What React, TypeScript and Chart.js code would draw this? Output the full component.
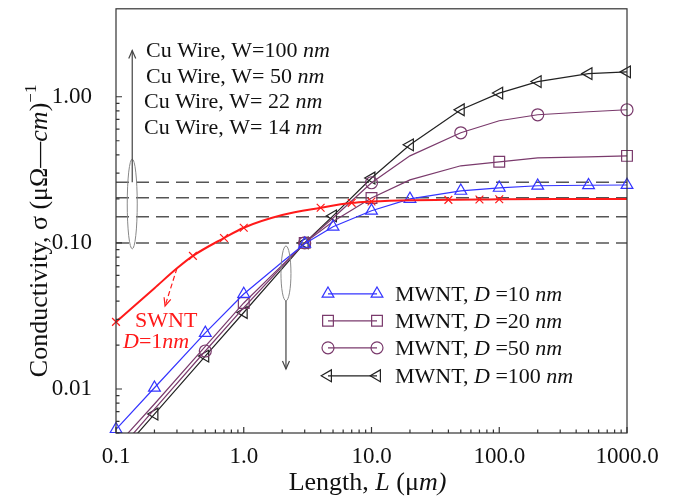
import React, { useEffect, useRef } from 'react';
import { Chart, registerables } from 'chart.js';
import { drawPoint } from 'chart.js/helpers';

Chart.register(...registerables);

const SERIF = '"Liberation Serif", "Times New Roman", Times, serif';

// ---- data ----
const lengthGrid = [0.1, 0.2, 0.5, 1, 2, 3, 5, 10, 20, 50, 100, 200, 500, 1000];
const mwnt10 = [0.0053, 0.0102, 0.0242, 0.0447, 0.074, 0.0985, 0.129, 0.166, 0.2, 0.227, 0.238, 0.246, 0.248, 0.249];
const mwnt20 = [0.00405, 0.0079, 0.0196, 0.0388, 0.0705, 0.1, 0.14, 0.203, 0.27, 0.337, 0.359, 0.382, 0.388, 0.394];
const mwnt50 = [0.00362, 0.00728, 0.0182, 0.036, 0.069, 0.1, 0.148, 0.258, 0.394, 0.567, 0.685, 0.753, 0.79, 0.815];
const mwnt100 = [0.00337, 0.00674, 0.0168, 0.0334, 0.0667, 0.1, 0.153, 0.278, 0.469, 0.815, 1.06, 1.27, 1.44, 1.48];
const mwnt10Marks = [0.1, 0.2, 0.5, 1, 3, 5, 10, 20, 50, 100, 200, 500, 1000];
const mwnt20Marks = [1, 3, 10, 100, 1000];
const mwnt50Marks = [0.5, 3, 10, 50, 200, 1000];
const mwnt100Marks = [0.2, 0.5, 1, 3, 5, 10, 20, 50, 100, 200, 500, 1000];

const swntLength = [0.1, 0.2, 0.3, 0.4, 0.7, 1, 2, 4, 7, 10, 20, 40, 70, 100, 300, 1000];
const swntValues = [0.0288, 0.049, 0.067, 0.0815, 0.108, 0.127, 0.155, 0.174, 0.188, 0.192, 0.196, 0.197, 0.198, 0.199, 0.2, 0.2];
const swntMarks = [0.1, 0.4, 0.7, 1, 4, 7, 10, 40, 70, 100];

const cuWireLevels = [0.26, 0.204, 0.151, 0.1];
const cuWireWidths = ['100', ' 50', ' 22', ' 14'];
const mwntDiameters = ['10', '20', '50', '100'];

const xMajorTicks = [0.1, 1, 10, 100, 1000];
const xTickLabels = ['0.1', '1.0', '10.0', '100.0', '1000.0'];
const yMajorTicks = [0.01, 0.1, 1];
const yTickLabels = ['0.01', '0.10', '1.00'];

// ---- styles ----
const BLUE = '#3434ff';
const PURPLE = '#7a3a6c';
const BLACK = '#222222';
const RED = '#ff1a1a';
const DASH = '#555555';

const mwntStyles = [
  { color: BLUE, style: 'triangle', radius: 6.8, rotation: 0 },
  { color: PURPLE, style: 'rect', radius: 7.6, rotation: 0 },
  { color: PURPLE, style: 'circle', radius: 6, rotation: 0 },
  { color: BLACK, style: 'triangle', radius: 6.8, rotation: -90 },
];

function decadeTicks(fromExp: number, toExp: number, startMult: number, endValue: number) {
  const out: number[] = [];
  for (let k = fromExp; k <= toExp; k++) {
    for (let m = k === fromExp ? startMult : 1; m <= 9; m++) {
      out.push(Number((m * Math.pow(10, k)).toPrecision(6)));
    }
  }
  out.push(endValue);
  return out;
}
const xTickValues = decadeTicks(-1, 2, 1, 1000);
const yTickValues = decadeTicks(-3, -1, 5, 1);

const near = (a: number, b: number) => Math.abs(a - b) / b < 1e-6;

function mwntDataset(values: number[], marks: number[], idx: number) {
  const s = mwntStyles[idx];
  return {
    data: lengthGrid.map((x, i) => ({ x, y: values[i] })),
    borderColor: s.color,
    backgroundColor: 'rgba(0,0,0,0)',
    borderWidth: 1.2,
    tension: 0,
    pointStyle: s.style,
    pointRotation: s.rotation,
    pointRadius: lengthGrid.map((x) => (marks.some((m) => near(x, m)) ? s.radius : 0)),
    pointBorderColor: s.color,
    pointBackgroundColor: 'rgba(0,0,0,0)',
    pointBorderWidth: 1.2,
    clip: { left: false, right: false, top: false, bottom: 0 },
  };
}

function drawRich(ctx: CanvasRenderingContext2D, segs: { t: string; i?: boolean }[], x: number, y: number, size: number) {
  let cx = x;
  for (const s of segs) {
    ctx.font = `${s.i ? 'italic ' : ''}${size}px ${SERIF}`;
    ctx.fillText(s.t, cx, y);
    cx += ctx.measureText(s.t).width;
  }
  return cx;
}

function richWidth(ctx: CanvasRenderingContext2D, segs: { t: string; i?: boolean; size: number }[]) {
  let w = 0;
  for (const s of segs) {
    ctx.font = `${s.i ? 'italic ' : ''}${s.size}px ${SERIF}`;
    w += ctx.measureText(s.t).width;
  }
  return w;
}

function arrowHead(ctx: CanvasRenderingContext2D, x1: number, y1: number, x2: number, y2: number, len = 8, spread = 3.5) {
  const a = Math.atan2(y2 - y1, x2 - x1);
  const bx = x2 - len * Math.cos(a);
  const by = y2 - len * Math.sin(a);
  ctx.beginPath();
  ctx.moveTo(bx - spread * Math.sin(a), by + spread * Math.cos(a));
  ctx.lineTo(x2, y2);
  ctx.lineTo(bx + spread * Math.sin(a), by - spread * Math.cos(a));
  ctx.stroke();
}

const annotate = {
  id: 'annotate',
  afterDraw(chart: any) {
    const { ctx, chartArea: ca, scales } = chart;
    const xs = scales.x;
    const ys = scales.y;
    const X = (v: number) => xs.getPixelForValue(v);
    const Y = (v: number) => ys.getPixelForValue(v);
    ctx.save();

    // frame
    ctx.strokeStyle = '#333';
    ctx.lineWidth = 1.2;
    ctx.setLineDash([]);
    ctx.strokeRect(ca.left, ca.top, ca.right - ca.left, ca.bottom - ca.top);

    // inward ticks
    ctx.beginPath();
    xs.ticks.forEach((t: any) => {
      const p = X(t.value);
      const len = xMajorTicks.some((m) => near(t.value, m)) ? 6 : 3.5;
      ctx.moveTo(p, ca.bottom);
      ctx.lineTo(p, ca.bottom - len);
    });
    ys.ticks.forEach((t: any) => {
      const p = Y(t.value);
      const len = yMajorTicks.some((m) => near(t.value, m)) ? 6 : 3.5;
      ctx.moveTo(ca.left, p);
      ctx.lineTo(ca.left + len, p);
    });
    ctx.stroke();

    // Cu wire ellipse + arrow
    ctx.strokeStyle = '#888';
    ctx.lineWidth = 1;
    const e1x = X(0.134);
    const e1t = Y(0.375);
    const e1b = Y(0.091);
    ctx.beginPath();
    ctx.ellipse(e1x, (e1t + e1b) / 2, 5, (e1b - e1t) / 2, 0, 0, Math.PI * 2);
    ctx.stroke();
    ctx.strokeStyle = '#444';
    ctx.lineWidth = 1.2;
    const a1s = Y(cuWireLevels[0]);
    const a1e = Y(2.07);
    ctx.beginPath();
    ctx.moveTo(e1x, a1s);
    ctx.lineTo(e1x, a1e);
    ctx.stroke();
    arrowHead(ctx, e1x, a1s, e1x, a1e);

    // MWNT ellipse + arrow
    ctx.strokeStyle = '#888';
    ctx.lineWidth = 1;
    const e2x = X(2.14);
    const e2t = Y(0.0953);
    const e2b = Y(0.0401);
    ctx.beginPath();
    ctx.ellipse(e2x, (e2t + e2b) / 2, 5, (e2b - e2t) / 2, 0, 0, Math.PI * 2);
    ctx.stroke();
    ctx.strokeStyle = '#444';
    ctx.lineWidth = 1.2;
    const a2e = Y(0.0137);
    ctx.beginPath();
    ctx.moveTo(e2x, e2b);
    ctx.lineTo(e2x, a2e);
    ctx.stroke();
    arrowHead(ctx, e2x, e2b, e2x, a2e);

    // SWNT dashed arrow
    ctx.strokeStyle = RED;
    ctx.lineWidth = 1.2;
    const s1x = X(0.3), s1y = Y(0.067);
    const s2x = X(0.242), s2y = Y(0.037);
    ctx.setLineDash([5, 3]);
    ctx.beginPath();
    ctx.moveTo(s1x, s1y);
    ctx.lineTo(s2x, s2y);
    ctx.stroke();
    ctx.setLineDash([]);
    arrowHead(ctx, s1x, s1y, s2x, s2y, 8, 3.5);

    // texts
    ctx.fillStyle = '#111';
    ctx.textBaseline = 'alphabetic';
    ctx.textAlign = 'left';
    const cuBase = [48, 74, 99, 125];
    const cuLeft = [30, 30, 28, 28];
    cuWireWidths.forEach((w, i) => {
      drawRich(ctx, [{ t: `Cu Wire, W=${w} ` }, { t: 'nm', i: true }], ca.left + cuLeft[i], ca.top + cuBase[i], 22);
    });

    ctx.fillStyle = RED;
    drawRich(ctx, [{ t: 'SWNT' }], ca.left + 19, ca.top + 318, 22);
    drawRich(ctx, [{ t: 'D', i: true }, { t: '=1' }, { t: 'nm', i: true }], ca.left + 7, ca.top + 339, 22);

    // legend
    const legBase = [292, 319, 346, 374];
    mwntDiameters.forEach((d, i) => {
      const s = mwntStyles[i];
      const cy = ca.top + legBase[i] - 7;
      const lx1 = ca.left + 212;
      const lx2 = ca.left + 261;
      ctx.strokeStyle = s.color;
      ctx.lineWidth = 1.2;
      ctx.beginPath();
      ctx.moveTo(lx1, cy);
      ctx.lineTo(lx2, cy);
      ctx.stroke();
      ctx.fillStyle = 'rgba(0,0,0,0)';
      const opts = { pointStyle: s.style, radius: s.radius, rotation: s.rotation, borderWidth: 1.2 };
      drawPoint(ctx, opts as any, lx1, cy);
      drawPoint(ctx, opts as any, lx2, cy);
      ctx.fillStyle = '#111';
      drawRich(ctx, [{ t: 'MWNT, ' }, { t: 'D', i: true }, { t: ` =${d} ` }, { t: 'nm', i: true }], ca.left + 279, ca.top + legBase[i], 22);
    });

    // x title
    const xSegs = [
      { t: 'Length, ', size: 26 },
      { t: 'L', i: true, size: 26 },
      { t: ' (', size: 26 },
      { t: 'μ', size: 26 },
      { t: 'm)', i: true, size: 26 },
    ];
    const xw = richWidth(ctx, xSegs);
    let cx = (ca.left + ca.right) / 2 - 4 - xw / 2;
    ctx.fillStyle = '#111';
    for (const s of xSegs) {
      ctx.font = `${s.i ? 'italic ' : ''}${s.size}px ${SERIF}`;
      ctx.fillText(s.t, cx, 490);
      cx += ctx.measureText(s.t).width;
    }

    // y title (rotated)
    const ySegs = [
      { t: 'Conductivity, σ (μΩ—', size: 26, dy: 0 },
      { t: 'cm', i: true, size: 26, dy: 0 },
      { t: ')', size: 26, dy: 0 },
      { t: '−1', size: 17, dy: -11 },
    ];
    const yw = richWidth(ctx, ySegs);
    ctx.save();
    ctx.translate(ca.left - 69, (ca.top + ca.bottom) / 2 + 10 + yw / 2);
    ctx.rotate(-Math.PI / 2);
    let ty = 0;
    for (const s of ySegs) {
      ctx.font = `${s.i ? 'italic ' : ''}${s.size}px ${SERIF}`;
      ctx.fillText(s.t, ty, s.dy);
      ty += ctx.measureText(s.t).width;
    }
    ctx.restore();

    ctx.restore();
  },
};

export default function App() {
  const ref = useRef<HTMLCanvasElement>(null);
  useEffect(() => {
    const datasets: any[] = [
      {
        data: swntLength.map((x, i) => ({ x, y: swntValues[i] })),
        borderColor: RED,
        backgroundColor: 'rgba(0,0,0,0)',
        borderWidth: 2,
        cubicInterpolationMode: 'monotone',
        pointStyle: 'crossRot',
        pointRadius: swntLength.map((x) => (swntMarks.some((m) => near(x, m)) ? 5.5 : 0)),
        pointBorderColor: RED,
        pointBorderWidth: 1.2,
        clip: { left: false, right: false, top: false, bottom: 0 },
      },
      mwntDataset(mwnt10, mwnt10Marks, 0),
      mwntDataset(mwnt20, mwnt20Marks, 1),
      mwntDataset(mwnt50, mwnt50Marks, 2),
      mwntDataset(mwnt100, mwnt100Marks, 3),
      ...cuWireLevels.map((v) => ({
        data: [
          { x: xMajorTicks[0], y: v },
          { x: xMajorTicks[xMajorTicks.length - 1], y: v },
        ],
        borderColor: DASH,
        borderWidth: 1.5,
        borderDash: [13, 7],
        pointRadius: 0,
      })),
    ];
    const chart = new Chart(ref.current as HTMLCanvasElement, {
      type: 'line',
      data: { datasets },
      plugins: [annotate],
      options: {
        animation: false,
        responsive: false,
        events: [],
        layout: { padding: { left: 0, top: 8, right: 50, bottom: 0 } },
        plugins: { legend: { display: false }, tooltip: { enabled: false } },
        scales: {
          x: {
            type: 'logarithmic',
            min: 0.1,
            max: 1000,
            grid: { display: false },
            border: { display: false },
            afterBuildTicks: (s: any) => {
              s.ticks = xTickValues.map((v) => ({ value: v }));
            },
            afterFit: (s: any) => {
              s.height = 69;
              s.paddingLeft = 0;
              s.paddingRight = 0;
            },
            ticks: {
              autoSkip: false,
              maxRotation: 0,
              minRotation: 0,
              padding: 2,
              color: '#111',
              font: { family: SERIF, size: 23 },
              callback: (v: any) => {
                const i = xMajorTicks.findIndex((m) => near(Number(v), m));
                return i >= 0 ? xTickLabels[i] : '';
              },
            },
          },
          y: {
            type: 'logarithmic',
            min: 0.005,
            max: 4,
            grid: { display: false },
            border: { display: false },
            afterBuildTicks: (s: any) => {
              s.ticks = yTickValues.map((v) => ({ value: v }));
            },
            afterFit: (s: any) => {
              s.width = 116;
              s.paddingTop = 0;
              s.paddingBottom = 0;
            },
            ticks: {
              autoSkip: false,
              padding: 16,
              color: '#111',
              font: { family: SERIF, size: 23 },
              callback: (v: any) => {
                const i = yMajorTicks.findIndex((m) => near(Number(v), m));
                return i >= 0 ? yTickLabels[i] : '';
              },
            },
          },
        },
      } as any,
    });
    return () => chart.destroy();
  }, []);
  return (
    <div style={{ position: 'absolute', left: 0, top: 0, width: 677, height: 502, background: '#fff' }}>
      <canvas ref={ref} width={677} height={502} style={{ display: 'block' }} />
    </div>
  );
}
